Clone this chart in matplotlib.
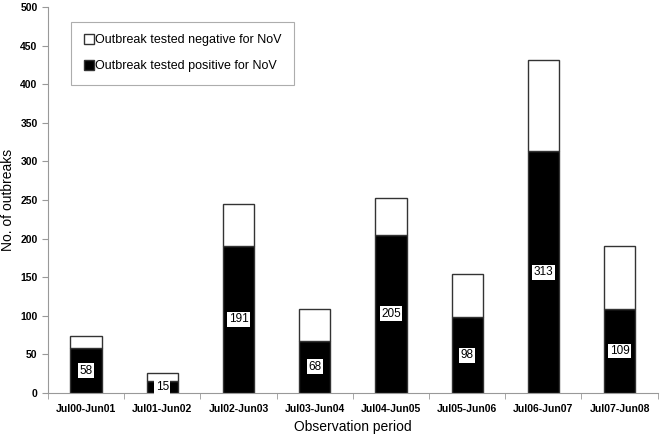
import numpy as np
import matplotlib
matplotlib.use("Agg")
import matplotlib.pyplot as plt

# ==============================
# DATOS
# ==============================

periods = ["Jul00-Jun01", "Jul01-Jun02", "Jul02-Jun03", "Jul03-Jun04",
           "Jul04-Jun05", "Jul05-Jun06", "Jul06-Jun07", "Jul07-Jun08"]
positive = [58, 15, 191, 68, 205, 98, 313, 109]
totals = [74, 26, 245, 109, 252, 154, 431, 190]
negative = [t - p for t, p in zip(totals, positive)]

# ==============================
# FIGURA
# ==============================

plt.rcParams["font.family"] = ["Liberation Sans", "DejaVu Sans"]

fig = plt.figure(figsize=(6.61, 4.38), dpi=100)
ax = fig.add_axes([0.0726, 0.1027, 0.9224, 0.8813])

x = np.arange(len(periods))
w = 0.41
ax.bar(x, positive, w, color="black", edgecolor="#333333", linewidth=1,
       label="Outbreak tested positive for NoV", zorder=2)
ax.bar(x, negative, w, bottom=positive, color="white", edgecolor="#333333",
       linewidth=1, label="Outbreak tested negative for NoV", zorder=2)

for xi, p in zip(x, positive):
    ax.text(xi, p / 2, str(p), ha="center", va="center", fontsize=8.5,
            bbox=dict(facecolor="white", edgecolor="none", pad=1), zorder=3)

ax.set_xlim(-0.5, len(periods) - 0.5)
ax.set_ylim(0, 500)
ax.set_yticks(range(0, 501, 50))
ax.set_xticks(x)
ax.set_xticklabels(periods, fontsize=7.5, fontweight="bold")
ax.set_xticks(np.arange(-0.5, len(periods), 1), minor=True)
ax.tick_params(axis="x", which="major", length=0, pad=8)
ax.tick_params(axis="x", which="minor", length=4, color="#999999")
ax.tick_params(axis="y", labelsize=7.5, length=4, color="#999999")
for lab in ax.get_yticklabels():
    lab.set_fontweight("bold")

for side in ["top", "right"]:
    ax.spines[side].set_visible(False)
for side in ["left", "bottom"]:
    ax.spines[side].set_color("#999999")

ax.set_ylabel("No. of outbreaks", fontsize=10)
ax.set_xlabel("Observation period", fontsize=10)

handles, labels = ax.get_legend_handles_labels()
leg = ax.legend(handles[::-1], labels[::-1], loc="upper left",
                bbox_to_anchor=(0.038, 0.962), fontsize=9, fancybox=False,
                handlelength=0.8, handleheight=0.8, handletextpad=0.1,
                borderpad=1.0, labelspacing=1.1, borderaxespad=0)
leg.get_frame().set_edgecolor("#999999")
leg.get_frame().set_linewidth(0.8)

fig.savefig("out.png", dpi=100)
